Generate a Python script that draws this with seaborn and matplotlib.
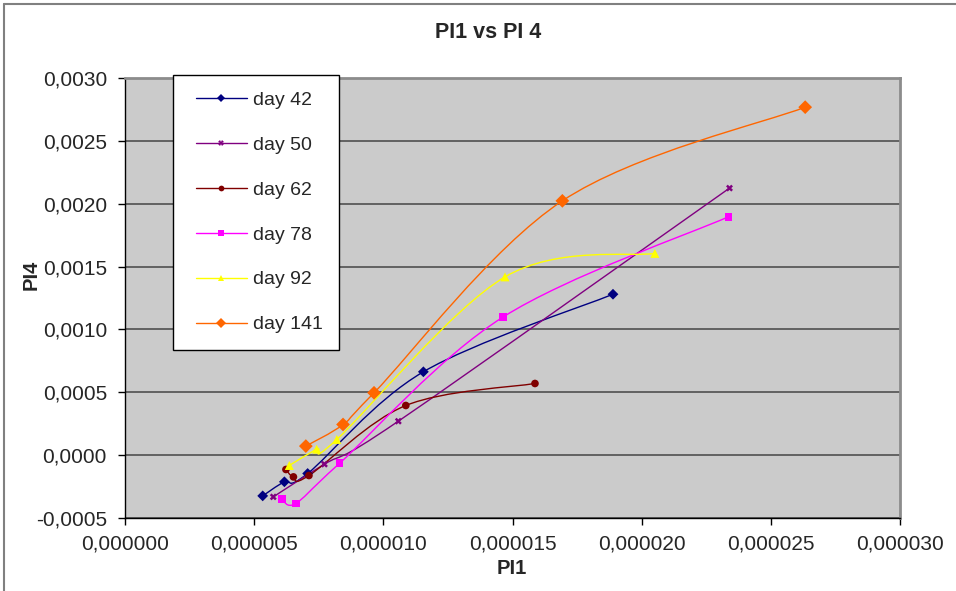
import numpy as np
import pandas as pd
import matplotlib
matplotlib.use("Agg")
import matplotlib.pyplot as plt
from matplotlib.path import Path
from matplotlib.patches import PathPatch
from matplotlib.lines import Line2D
from matplotlib.legend_handler import HandlerLine2D
from matplotlib.ticker import FuncFormatter, MultipleLocator
import seaborn as sns

# values (PI1 in units of 1e-6, PI4 in units of 1e-3)
days = ['day 42', 'day 50', 'day 62', 'day 78', 'day 92', 'day 141']
pi1_day42 = [5.33, 6.17, 7.07, 11.55, 18.89]
pi4_day42 = [-0.324, -0.212, -0.146, 0.663, 1.280]
pi1_day50 = [5.74, 7.72, 10.58, 23.40]
pi4_day50 = [-0.332, -0.072, 0.270, 2.124]
pi1_day62 = [6.23, 6.52, 7.12, 10.87, 15.87]
pi4_day62 = [-0.114, -0.173, -0.162, 0.395, 0.570]
pi1_day78 = [6.07, 6.61, 8.31, 14.63, 23.36]
pi4_day78 = [-0.350, -0.384, -0.064, 1.098, 1.896]
pi1_day92 = [6.36, 7.42, 8.20, 14.71, 20.51]
pi4_day92 = [-0.082, 0.048, 0.125, 1.418, 1.605]
pi1_day141 = [7.00, 8.44, 9.64, 16.93, 26.33]
pi4_day141 = [0.072, 0.244, 0.496, 2.023, 2.768]

colors = ['#000080', '#800080', '#800000', '#FF00FF', '#FFFF00', '#FF6600']
markers = ['D', 'X', 'o', 's', '^', 'D']
msizes = [5.5, 5.0, 5.5, 5.5, 6.5, 7.0]

xs = [pi1_day42, pi1_day50, pi1_day62, pi1_day78, pi1_day92, pi1_day141]
ys = [pi4_day42, pi4_day50, pi4_day62, pi4_day78, pi4_day92, pi4_day141]

rows = []
for d, x, y in zip(days, xs, ys):
    for a, b in zip(x, y):
        rows.append({'day': d, 'PI1': a * 1e-6, 'PI4': b * 1e-3})
df = pd.DataFrame(rows)


def smooth_path(px, py):
    # excel-style smoothed line: cubic bezier segments (catmull-rom tangents)
    p = np.column_stack([px, py])
    n = len(p)
    verts = [p[0]]
    codes = [Path.MOVETO]
    for i in range(n - 1):
        p0 = p[i - 1] if i > 0 else p[i]
        p3 = p[i + 2] if i + 2 < n else p[i + 1]
        c1 = p[i] + (p[i + 1] - p0) / 6.0
        c2 = p[i + 1] - (p3 - p[i]) / 6.0
        verts += [c1, c2, p[i + 1]]
        codes += [Path.CURVE4] * 3
    return Path(verts, codes)


sns.set_style("white")
plt.rcParams['font.family'] = ['Liberation Sans', 'DejaVu Sans']

fig = plt.figure(figsize=(9.56, 5.91), dpi=100)
ax = fig.add_axes([125 / 956, 1 - 518 / 591, 775 / 956, 440 / 591])
ax.set_facecolor('#CBCBCB')

for i, d in enumerate(days):
    sub = df[df['day'] == d]
    patch = PathPatch(smooth_path(sub['PI1'].values, sub['PI4'].values),
                      facecolor='none', edgecolor=colors[i], lw=1.0, zorder=3)
    ax.add_patch(patch)

sns.scatterplot(data=df, x='PI1', y='PI4', hue='day', style='day',
                palette=dict(zip(days, colors)), markers=dict(zip(days, markers)),
                size='day', sizes=dict(zip(days, [m ** 2 for m in msizes])),
                edgecolor='none', linewidth=0, legend=False, ax=ax, zorder=4)

ax.set_xlim(0, 0.00003)
ax.set_ylim(-0.0005, 0.003)
ax.xaxis.set_major_locator(MultipleLocator(0.000005))
ax.yaxis.set_major_locator(MultipleLocator(0.0005))
ax.xaxis.set_major_formatter(FuncFormatter(lambda v, p: f"{v:.6f}".replace('.', ',')))
ax.yaxis.set_major_formatter(FuncFormatter(lambda v, p: f"{v:.4f}".replace('.', ',').replace('-0,0000', '0,0000')))
ax.yaxis.grid(True, color='#5a5a5a', lw=1.3, zorder=1)
ax.set_axisbelow(True)
ax.tick_params(axis='both', direction='out', length=5, width=1, color='black',
               labelsize=15, left=True, bottom=True)
ax.tick_params(axis='y', pad=8)
ax.tick_params(axis='x', pad=7)
ax.set_xlabel('')
ax.set_ylabel('')
for s in ['left', 'bottom']:
    ax.spines[s].set_color('black')
    ax.spines[s].set_linewidth(1.0)
for s in ['top', 'right']:
    ax.spines[s].set_color('#8c8c8c')
    ax.spines[s].set_linewidth(2.0)

handles = [Line2D([], [], color=c, marker=m, markersize=ms * 0.75, lw=1.0,
                  markeredgewidth=0) for c, m, ms in zip(colors, markers, msizes)]
leg = fig.legend(handles, days, loc='upper left',
                 bbox_to_anchor=(173 / 956, 1 - 75 / 591), borderaxespad=0,
                 fontsize=14, handlelength=2.95, handletextpad=0.3,
                 borderpad=0.85, labelspacing=1.4, fancybox=False,
                 framealpha=1, edgecolor='black',
                 handler_map={Line2D: HandlerLine2D(xpad=0.33)})
leg.get_frame().set_linewidth(1.0)

fig.text(488 / 956, 1 - 33 / 591, 'PI1 vs PI 4', ha='center', va='center',
         fontsize=15.5, fontweight='bold')
fig.text(31 / 956, 1 - 275 / 591, 'PI4', ha='center', va='center',
         rotation=90, fontsize=14.5, fontweight='bold')
fig.text(512 / 956, 1 - 568 / 591, 'PI1', ha='center', va='center',
         fontsize=14.5, fontweight='bold')

# chart frame
fig.add_artist(Line2D([4 / 956, 1], [1 - 4 / 591, 1 - 4 / 591], color='#808080', lw=1.5))
fig.add_artist(Line2D([4 / 956, 4 / 956], [0, 1 - 4 / 591], color='#808080', lw=1.5))

fig.savefig('out.png', dpi=100)
